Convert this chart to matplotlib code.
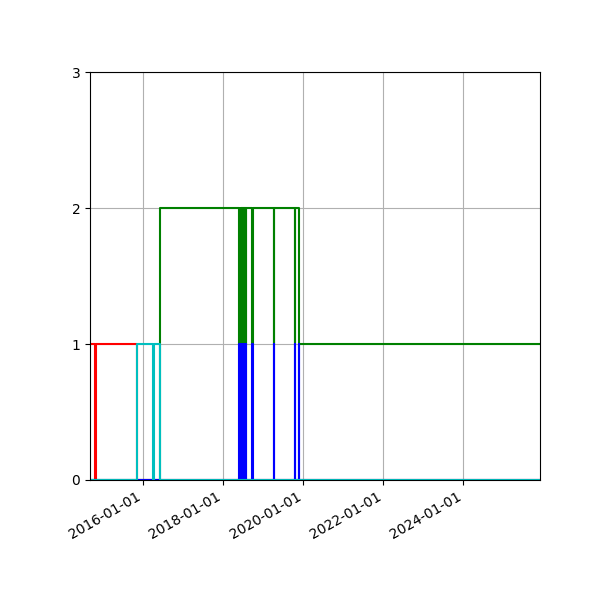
import matplotlib
matplotlib.use("Agg")
import matplotlib.pyplot as plt
import matplotlib.dates as mdates
import pandas as pd

# Step-change data (date, value) for each series
red_dates = ['2014-09-11', '2014-10-20', '2014-10-24', '2015-11-07', '2025-12-01']
red_vals = [1, 0, 1, 0, 0]

green_dates = ['2014-09-01', '2016-05-29',
               '2018-05-28', '2018-05-30', '2018-06-05', '2018-06-07', '2018-06-13', '2018-06-15',
               '2018-06-21', '2018-06-23', '2018-06-29', '2018-07-01', '2018-07-07', '2018-07-09',
               '2018-07-15', '2018-07-17', '2018-07-23', '2018-07-25',
               '2018-09-22', '2018-09-24', '2019-04-05', '2019-04-07',
               '2019-10-14', '2019-10-16', '2019-11-18', '2025-12-01']
green_vals = [0, 2,
              1, 2, 1, 2, 1, 2,
              1, 2, 1, 2, 1, 2,
              1, 2, 1, 2,
              1, 2, 1, 2,
              1, 2, 1, 1]

blue_dates = ['2014-09-01',
              '2018-05-28', '2018-05-30', '2018-06-05', '2018-06-07', '2018-06-13', '2018-06-15',
              '2018-06-21', '2018-06-23', '2018-06-29', '2018-07-01', '2018-07-07', '2018-07-09',
              '2018-07-15', '2018-07-17', '2018-07-23', '2018-07-25',
              '2018-09-22', '2018-09-24', '2019-04-05', '2019-04-07',
              '2019-10-14', '2019-10-16', '2019-11-18', '2019-11-20', '2025-12-01']
blue_vals = [0,
             1, 0, 1, 0, 1, 0,
             1, 0, 1, 0, 1, 0,
             1, 0, 1, 0,
             1, 0, 1, 0,
             1, 0, 1, 0, 0]

cyan_dates = ['2014-09-01', '2015-11-07', '2016-03-29', '2016-04-08', '2016-05-29', '2025-12-01']
cyan_vals = [0, 1, 0, 1, 0, 0]

x_start = '2014-09-01'
x_end = '2025-12-01'

fig, ax = plt.subplots(figsize=(6, 6), dpi=100)
fig.subplots_adjust(left=0.15, right=0.9, top=0.88, bottom=0.2)

ax.step(pd.to_datetime(red_dates), red_vals, where='post', color='r')
ax.step(pd.to_datetime(green_dates), green_vals, where='post', color='g')
ax.step(pd.to_datetime(blue_dates), blue_vals, where='post', color='b')
ax.step(pd.to_datetime(cyan_dates), cyan_vals, where='post', color='c')

ax.set_xlim(pd.Timestamp(x_start), pd.Timestamp(x_end))
ax.set_ylim(0, 3)
ax.set_yticks([0, 1, 2, 3])
ax.xaxis.set_major_locator(mdates.YearLocator(2))
ax.xaxis.set_major_formatter(mdates.DateFormatter('%Y-%m-%d'))
ax.grid(True)
for lbl in ax.get_xticklabels():
    lbl.set_rotation(30)
    lbl.set_ha('right')

fig.savefig('out.png')
